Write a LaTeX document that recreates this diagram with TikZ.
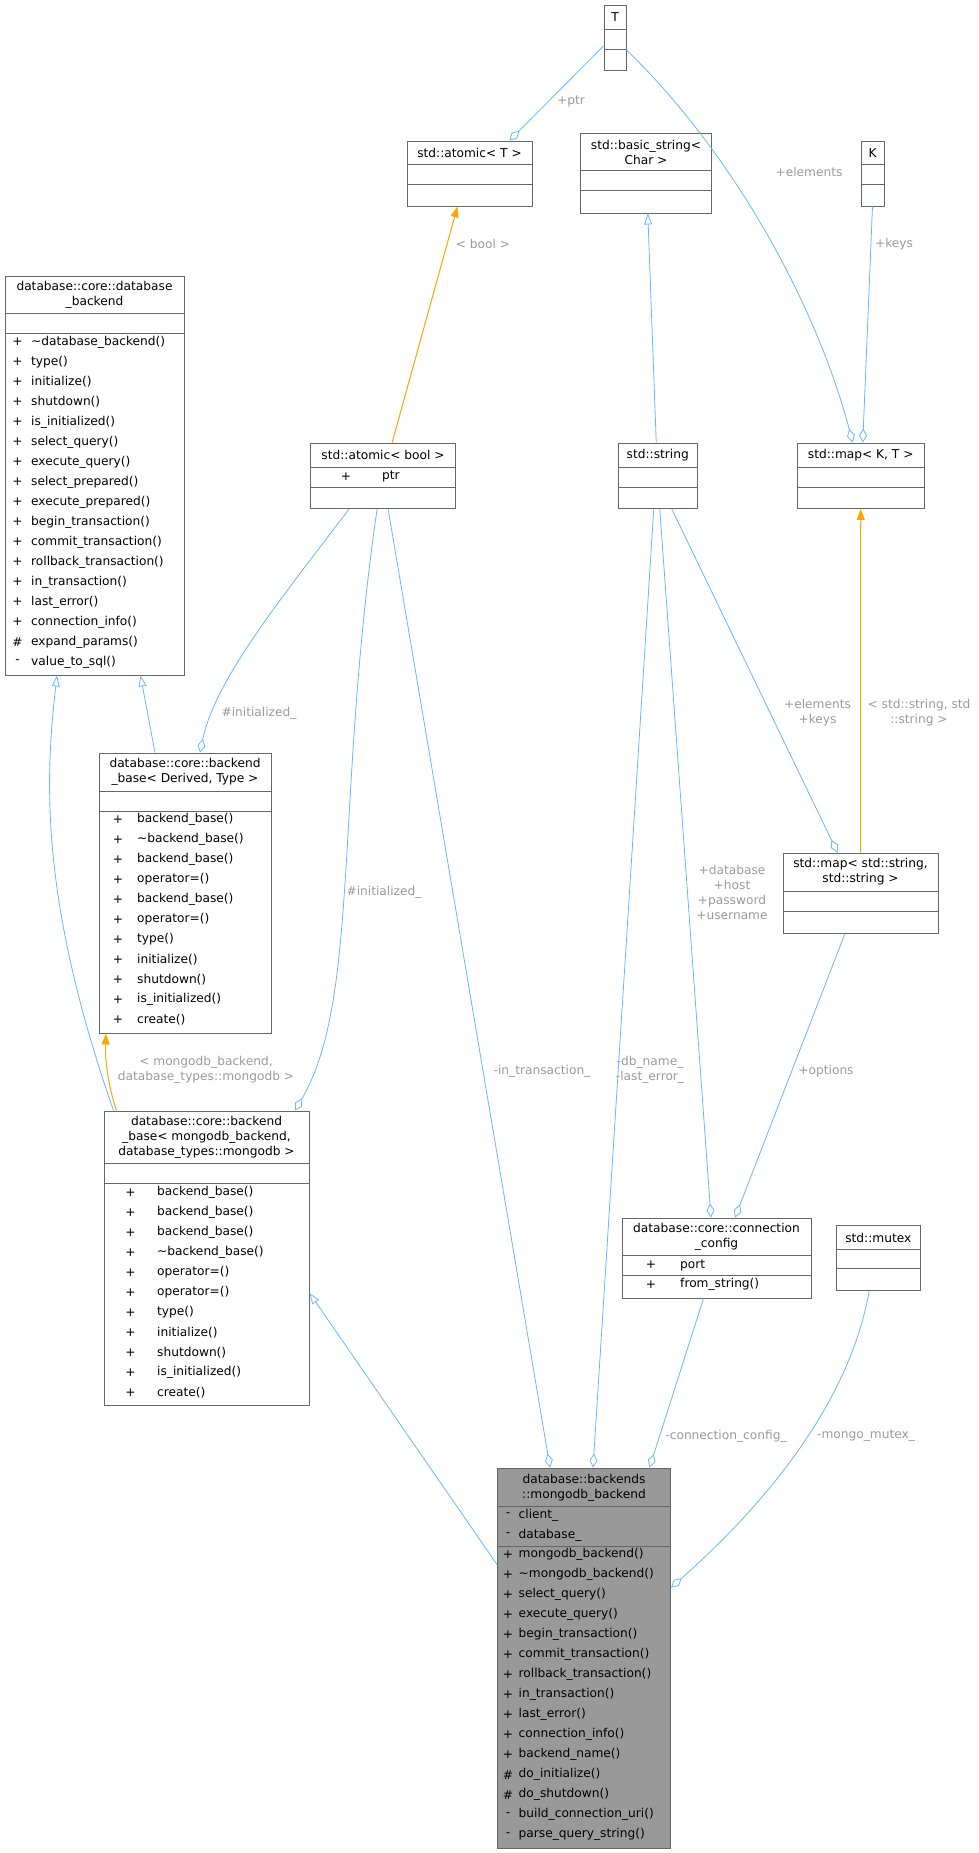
\documentclass[tikz,border=0pt]{standalone}
\usepackage{fontspec}
\setmainfont{DejaVu Sans}
\usetikzlibrary{arrows.meta,fit}
\definecolor{edgeblue}{HTML}{63B8FF}
\definecolor{edgeorange}{HTML}{FFA500}
\definecolor{lblgrey}{HTML}{9A9A9A}
\definecolor{bordergrey}{HTML}{666666}
\definecolor{mainfill}{HTML}{999999}
\newcommand\ubox[6]{\node[boxst,fill=#6,fit={(#2,#3)(#4,#5)}] (#1) {};}
\newcommand\hsep[3]{\draw[bordergrey,line width=0.9pt] (#1,#3)--(#2,#3);}
\newcommand\txt[3]{\node[txtst] at (#1,#2) {#3};}
\newcommand\mrow[5]{\node[txtst,anchor=center] at (#1,#4) {#3};\node[txtst,anchor=west] at (#2,#4) {#5};}
\begin{document}
\begin{tikzpicture}[x=1pt,y=-1pt,
  boxst/.style={draw=bordergrey,line width=0.9pt,inner sep=0pt},
  txtst/.style={inner sep=0pt,font=\fontsize{12.2}{15}\selectfont,align=center},
  lbl/.style={inner sep=0pt,font=\fontsize{12.2}{15}\selectfont,text=lblgrey,align=center},
  agg/.style={edgeblue,line width=0.8pt,-{Diamond[open,length=14pt,width=8pt]}},
  inh/.style={edgeblue,line width=0.8pt,-{Triangle[open,length=11pt,width=8pt]}},
  tmpl/.style={edgeorange,line width=1pt,-{Triangle[length=11pt,width=8pt]}}]
\useasboundingbox (0,0) rectangle (979,1853);
% T
\ubox{T}{604}{5.4}{626}{70.5}{white}\hsep{604}{626}{29}\hsep{604}{626}{49}
\txt{615}{17}{T}
% K
\ubox{K}{861}{141}{884}{206}{white}\hsep{861}{884}{164}\hsep{861}{884}{184}
\txt{872.5}{152.7}{K}
% atomic<T>
\ubox{atomicT}{407}{141}{532}{206}{white}\hsep{407}{532}{164}\hsep{407}{532}{184}
\txt{469.5}{152.7}{std::atomic< T >}
% basic_string
\ubox{bstr}{580.6}{133}{711}{213}{white}\hsep{580.6}{711}{170.5}\hsep{580.6}{711}{190.6}
\txt{646}{152}{std::basic\_string<\\Char >}
% database_backend
\ubox{dbb}{5}{276}{184}{675}{white}\hsep{5}{184}{313}\hsep{5}{184}{333.5}
\txt{94.5}{295}{database::core::database\\\_backend}
\foreach \s/\t [count=\i from 0] in {+/\textasciitilde database\_backend(),+/type(),+/initialize(),+/shutdown(),+/is\_initialized(),+/select\_query(),+/execute\_query(),+/select\_prepared(),+/execute\_prepared(),+/begin\_transaction(),+/commit\_transaction(),+/rollback\_transaction(),+/in\_transaction(),+/last\_error(),+/connection\_info(),\#/expand\_params(),-/value\_to\_sql()}
  {\mrow{17.5}{31}{\s}{342+20*\i}{\t}}
% atomic<bool>
\ubox{abool}{310.6}{443}{455.6}{508.5}{white}\hsep{310.6}{455.6}{467}\hsep{310.6}{455.6}{487}
\txt{383}{455}{std::atomic< bool >}
\mrow{346}{382}{+}{476.5}{ptr}
% std::string
\ubox{str}{618}{443}{697.5}{508.5}{white}\hsep{618}{697.5}{467}\hsep{618}{697.5}{487}
\txt{657.7}{455}{std::string}
% map<K,T>
\ubox{mapKT}{797.5}{443}{924}{508.5}{white}\hsep{797.5}{924}{467}\hsep{797.5}{924}{487}
\txt{860.7}{455}{std::map< K, T >}
% backend_base<Derived, Type>
\ubox{bbD}{99}{753}{271}{1033}{white}\hsep{99}{271}{791}\hsep{99}{271}{811}
\txt{185}{772}{database::core::backend\\\_base< Derived, Type >}
\foreach \t [count=\i from 0] in {backend\_base(),\textasciitilde backend\_base(),backend\_base(),operator=(),backend\_base(),operator=(),type(),initialize(),shutdown(),is\_initialized(),create()}
  {\mrow{118}{137}{+}{819.6+20*\i}{\t}}
% backend_base<mongodb>
\ubox{bbM}{104}{1111}{309}{1405}{white}\hsep{104}{309}{1163}\hsep{104}{309}{1183}
\txt{206.5}{1137}{database::core::backend\\\_base< mongodb\_backend,\\database\_types::mongodb >}
\foreach \t [count=\i from 0] in {backend\_base(),backend\_base(),backend\_base(),\textasciitilde backend\_base(),operator=(),operator=(),type(),initialize(),shutdown(),is\_initialized(),create()}
  {\mrow{130.6}{157}{+}{1192.4+20*\i}{\t}}
% map<string,string>
\ubox{mapSS}{783}{853}{938}{933}{white}\hsep{783}{938}{891}\hsep{783}{938}{911}
\txt{860.5}{872}{std::map< std::string,\\std::string >}
% connection_config
\ubox{cc}{622}{1218}{811}{1298}{white}\hsep{622}{811}{1255}\hsep{622}{811}{1275}
\txt{716.5}{1236.7}{database::core::connection\\\_config}
\mrow{651}{680}{+}{1265}{port}
\mrow{651}{680}{+}{1284.5}{from\_string()}
% mutex
\ubox{mtx}{836}{1225.5}{920.6}{1290}{white}\hsep{836}{920.6}{1249}\hsep{836}{920.6}{1268}
\txt{878.3}{1237.5}{std::mutex}
% mongodb_backend
\ubox{mb}{497.5}{1468}{670.6}{1848.5}{mainfill}\hsep{497.5}{670.6}{1506}\hsep{497.5}{670.6}{1546}
\txt{584}{1487.6}{database::backends\\::mongodb\_backend}
\mrow{508}{518.5}{-}{1515}{client\_}
\mrow{508}{518.5}{-}{1535}{database\_}
\foreach \s/\t [count=\i from 0] in {+/mongodb\_backend(),+/\textasciitilde mongodb\_backend(),+/select\_query(),+/execute\_query(),+/begin\_transaction(),+/commit\_transaction(),+/rollback\_transaction(),+/in\_transaction(),+/last\_error(),+/connection\_info(),+/backend\_name(),\#/do\_initialize(),\#/do\_shutdown(),-/build\_connection\_uri(),-/parse\_query\_string()}
  {\mrow{508}{518.5}{\s}{1554.7+20*\i}{\t}}
% ---- edges
\draw[agg] ([yshift=-8pt]T.west) -- ([xshift=40pt]atomicT.north);
\draw[agg] ([yshift=-12pt]T.east) .. controls (730,150) and (815,300) .. ([xshift=-8pt]mapKT.north);
\draw[agg] (K.south) -- ([xshift=2pt]mapKT.north);
\draw[tmpl] ([xshift=9pt]abool.north) -- ([xshift=-12pt]atomicT.south);
\draw[inh] ([xshift=-1.5pt]str.north) -- ([xshift=2pt]bstr.south);
\draw[tmpl] ([xshift=0pt]mapSS.north) -- ([xshift=0pt]mapKT.south);
\draw[agg] ([xshift=14pt]str.south) -- ([xshift=-23pt]mapSS.north);
\draw[inh] ([xshift=-30pt]bbD.north) -- ([xshift=46pt]dbb.south);
\draw[inh] ([xshift=-93pt]bbM.north) .. controls (40,900) and (45,780) .. ([xshift=-37.5pt]dbb.south);
\draw[agg] ([xshift=-34pt]abool.south) .. controls (280,600) and (215,680) .. ([xshift=15pt]bbD.north);
\draw[agg] ([xshift=-6pt]abool.south) .. controls (335,800) and (360,1000) .. ([xshift=88.5pt]bbM.north);
\draw[agg] ([xshift=5pt]abool.south) -- ([xshift=-34pt]mb.north);
\draw[agg] ([xshift=-4pt]str.south) -- ([xshift=9pt]mb.north);
\draw[agg] ([xshift=2pt]str.south) -- ([xshift=-5.5pt]cc.north);
\draw[agg] ([xshift=-15.5pt]mapSS.south) -- ([xshift=18.5pt]cc.north);
\draw[tmpl] ([xshift=-90pt]bbM.north) .. controls (108,1085) and (105,1060) .. ([xshift=-79pt]bbD.south);
\draw[inh] ([yshift=-97pt]mb.north west) -- ([yshift=-35pt]bbM.east);
\draw[agg] ([xshift=-13pt]cc.south) -- ([xshift=65.5pt]mb.north);
\draw[agg] ([xshift=-9pt]mtx.south) .. controls (850,1400) and (770,1500) .. ([yshift=-120pt]mb.north east);
% ---- labels
\node[lbl] (l1) at (571,101) {+ptr};
\node[lbl] (l2) at (809,172) {+elements};
\node[lbl] (l3) at (894,244) {+keys};
\node[lbl] (l4) at (483,244) {< bool >};
\node[lbl] (l5) at (259,713) {\#initialized\_};
\node[lbl] (l6) at (384,892) {\#initialized\_};
\node[lbl] (l7) at (206,1070) {< mongodb\_backend,\\database\_types::mongodb >};
\node[lbl] (l8) at (542,1071) {-in\_transaction\_};
\node[lbl] (l9) at (650,1070) {-db\_name\_\\-last\_error\_};
\node[lbl] (l10) at (732,892) {+database\\+host\\+password\\+username};
\node[lbl] (l11) at (826,1071) {+options};
\node[lbl] (l12) at (817.5,713) {+elements\\+keys};
\node[lbl] (l13) at (919,713) {< std::string, std\\::string >};
\node[lbl] (l14) at (726,1436) {-connection\_config\_};
\node[lbl] (l15) at (866,1436) {-mongo\_mutex\_};
\end{tikzpicture}
\end{document}
